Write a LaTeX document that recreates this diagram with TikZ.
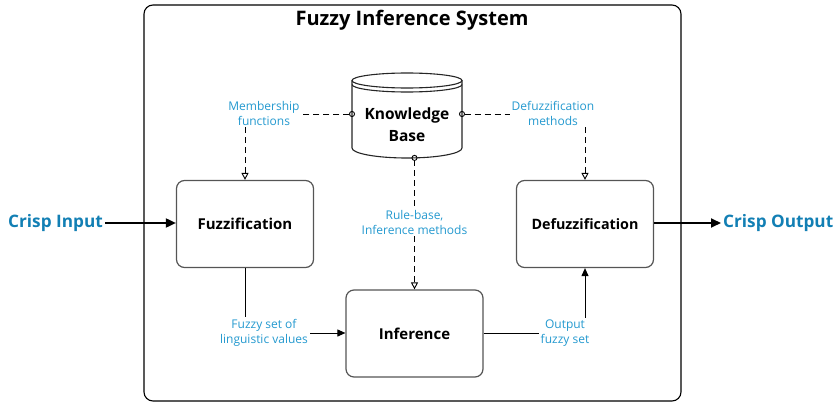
\documentclass[tikz,border=0pt]{standalone}
\usepackage{fontspec}
\setmainfont{Open Sans}
\usetikzlibrary{arrows.meta}
\definecolor{lblue}{HTML}{2499CF}
\definecolor{cblue}{HTML}{127FB4}
\definecolor{boxgray}{HTML}{555555}
\begin{document}
\begin{tikzpicture}[x=1pt,y=-1pt,
  block/.style={draw=boxgray, line width=1.2pt, rounded corners=8pt, minimum width=137pt, minimum height=87pt, font=\bfseries\fontsize{15}{17}\selectfont, align=center},
  lbl/.style={text=lblue, font=\fontsize{12}{15}\selectfont, align=center, inner sep=2pt},
  crisp/.style={text=cblue, font=\bfseries\fontsize{17.2}{20}\selectfont, inner sep=2pt},
  dsh/.style={line width=0.9pt, dash pattern=on 6pt off 4pt},
  opentri/.style={-{Triangle[open,length=7pt,width=7pt]}},
  circstart/.style={{Circle[open,length=6pt,width=6pt]}-, shorten <=-3pt},
  solidarrow/.style={line width=1pt, -{Triangle[length=8pt,width=7pt]}},
  thickarrow/.style={line width=1.8pt, -{Triangle[length=10pt,width=9pt]}}
]
\useasboundingbox (0,0) rectangle (838,404);
% outer system box
\draw[line width=1.1pt, rounded corners=9pt] (144,5) rectangle (681,401);
\node[font=\bfseries\fontsize{20}{22}\selectfont] (title) at (412,20) {Fuzzy Inference System};

% knowledge base cylinder
\draw[line width=1.1pt, draw=black!85, fill=white]
  (352,80.5) -- (352,148) arc[start angle=180, end angle=360, x radius=55pt, y radius=10pt] -- (462,80.5);
\draw[line width=1.1pt, draw=black!85] (407,80.5) ellipse [x radius=55pt, y radius=7.5pt];
\draw[line width=1.1pt, draw=black!85] (352,84.5) arc[start angle=180, end angle=360, x radius=55pt, y radius=7.5pt];
\node[font=\bfseries\fontsize{15.5}{22}\selectfont, align=center] (kb) at (407,125) {Knowledge\\Base};
\coordinate (kbL) at (352,114);
\coordinate (kbR) at (462,114);
\coordinate (kbB) at (414.5,157.9);

% process blocks
\node[block] (fuzz) at (245,224) {Fuzzification};
\node[block, font=\bfseries\fontsize{14.3}{17}\selectfont] (defuzz) at (585,224) {Defuzzification};
\node[block] (inf) at (414.5,333.5) {Inference};

% crisp input / output
\node[crisp, anchor=east] (cin) at (105,223) {Crisp Input};
\node[crisp, anchor=west] (cout) at (721,223) {Crisp Output};
\draw[thickarrow] (cin.east) -- (cin.east -| fuzz.west);
\draw[thickarrow] (defuzz.east |- cout.west) -- (cout.west);

% labels
\node[lbl] (ml) at (264,113) {Membership\\functions};
\node[lbl] (dm) at (553,113) {Defuzzification\\methods};
\node[lbl] (rb) at (414.5,222) {Rule-base,\\Inference methods};
\node[lbl] (fs) at (264,333) {Fuzzy set of\\linguistic values};
\node[lbl] (of) at (565,333) {Output\\fuzzy set};

% dashed knowledge connectors
\draw[dsh, circstart] (kbL) -- (ml.east |- kbL);
\draw[dsh, opentri] (ml.south -| fuzz.north) -- (fuzz.north);
\draw[dsh, circstart] (kbR) -- (dm.west |- kbR);
\draw[dsh, opentri] (dm.south -| defuzz.north) -- (defuzz.north);
\draw[dsh, circstart] (kbB) -- (rb.north);
\draw[dsh, opentri] (rb.south) -- (inf.north);

% solid data flow
\draw[line width=1pt] (fuzz.south) -- (fuzz.south |- fs.north);
\draw[solidarrow] (fs.east) -- (fs.east -| inf.west);
\draw[line width=1pt] (inf.east |- of.west) -- (of.west);
\draw[solidarrow] (of.north -| defuzz.south) -- (defuzz.south);
\end{tikzpicture}
\end{document}
